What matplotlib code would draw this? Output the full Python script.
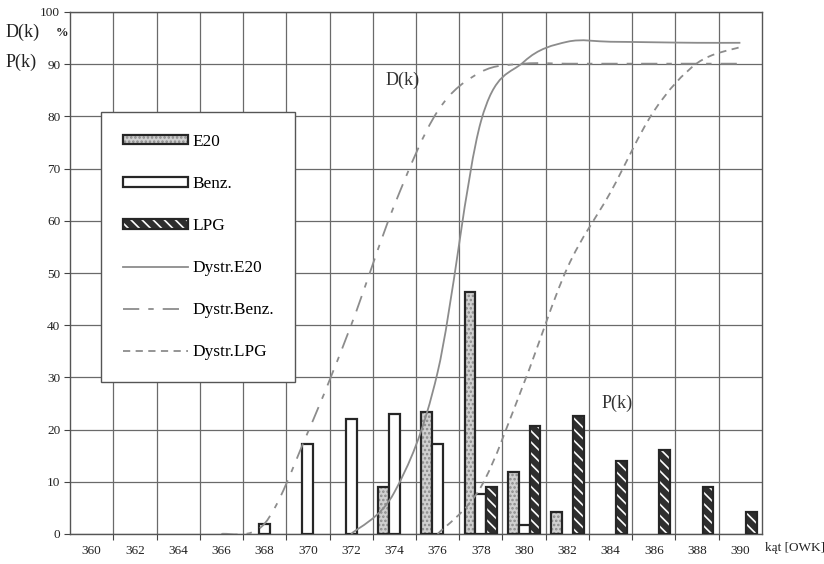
import numpy as np
import matplotlib
matplotlib.use("Agg")
import matplotlib.pyplot as plt
from matplotlib.path import Path
from matplotlib.patches import PathPatch, Patch
from matplotlib.lines import Line2D

plt.rcParams['font.family'] = ['Liberation Serif', 'DejaVu Serif']
plt.rcParams['hatch.linewidth'] = 1.2

# kąt [OWK] - kategorie co 2 stopnie
angles = [360, 362, 364, 366, 368, 370, 372, 374, 376, 378, 380, 382, 384, 386, 388, 390]

# P(k) [%] dla poszczególnych paliw
p_e20 = [0, 0, 0, 0, 0, 0, 0, 9.0, 23.3, 46.3, 11.8, 4.2, 0, 0, 0, 0]
p_benz = [0, 0, 0, 0, 1.9, 17.3, 22.0, 23.0, 17.3, 7.7, 1.8, 0, 0, 0, 0, 0]
p_lpg = [0, 0, 0, 0, 0, 0, 0, 0, 0, 9.0, 20.7, 22.6, 14.0, 16.0, 9.0, 4.2]

# D(k) [%] - dystrybuanty
d_e20_x = [372, 374, 376, 378, 380, 382, 384, 386, 388, 390]
d_e20 = [0, 8.0, 31.0, 79.0, 90.5, 94.3, 94.3, 94.2, 94.1, 94.1]
d_benz_x = [366, 368, 370, 372, 374, 376, 378, 380, 382, 384, 386, 388, 390]
d_benz = [0, 2.0, 19.5, 40.0, 63.0, 81.0, 88.5, 90.1, 90.1, 90.1, 90.1, 90.1, 90.1]
d_lpg_x = [376, 378, 380, 382, 384, 386, 388, 390]
d_lpg = [0, 9.0, 29.0, 51.0, 65.5, 81.0, 90.2, 93.3]


def smooth_path(xs, ys):
    # wygładzona linia (krzywe Beziera przez kolejne punkty)
    pts = np.column_stack([xs, ys]).astype(float)
    n = len(pts)
    verts = [pts[0]]
    codes = [Path.MOVETO]
    for i in range(n - 1):
        p0 = pts[i - 1] if i > 0 else pts[i]
        p1 = pts[i]
        p2 = pts[i + 1]
        p3 = pts[i + 2] if i + 2 < n else pts[i + 1]
        verts += [p1 + (p2 - p0) / 6, p2 - (p3 - p1) / 6, p2]
        codes += [Path.CURVE4] * 3
    return Path(verts, codes)


def nonzero(xs, vals):
    xs = np.asarray(xs, dtype=float)
    vals = np.asarray(vals, dtype=float)
    m = vals > 0
    return xs[m], vals[m]


fig = plt.figure(figsize=(8.24, 5.64), dpi=100)
ax = fig.add_axes([70 / 824, 30 / 564, 692 / 824, 522 / 564])

x = np.array(angles, dtype=float)
w = 0.5
edge = '#262626'

# E20 - jasny wzór
xe, ve = nonzero(x - w, p_e20)
ax.bar(xe, ve, width=w, color='#d0d0d0', hatch='....', edgecolor='#8a8a8a', linewidth=0, zorder=3)
ax.bar(xe, ve, width=w, fill=False, edgecolor=edge, linewidth=1.6, zorder=4)
# Benz. - białe
xb, vb = nonzero(x, p_benz)
ax.bar(xb, vb, width=w, color='white', edgecolor=edge, linewidth=1.6, zorder=4)
# LPG - ciemne paski
xl, vl = nonzero(x + w, p_lpg)
ax.bar(xl, vl, width=w, color='#2e2e2e', hatch='\\\\\\', edgecolor='white', linewidth=0, zorder=3)
ax.bar(xl, vl, width=w, fill=False, edgecolor=edge, linewidth=1.6, zorder=4)

curve_col = '#8c8c8c'
styles = {
    'e20': '-',
    'benz': (0, (9, 5, 3, 5)),
    'lpg': (0, (4, 3)),
}
for xs, ys, key in [(d_e20_x, d_e20, 'e20'), (d_benz_x, d_benz, 'benz'), (d_lpg_x, d_lpg, 'lpg')]:
    ax.add_patch(PathPatch(smooth_path(xs, ys), fill=False, edgecolor=curve_col,
                           linewidth=1.3, linestyle=styles[key], zorder=5))

ax.set_xlim(359, 391)
ax.set_ylim(0, 100)
ax.set_yticks(range(0, 101, 10))
ax.set_xticks(range(361, 391, 2))
ax.set_xticks(angles, minor=True)
ax.set_xticklabels(angles, minor=True)
ax.tick_params(axis='x', which='major', length=4, labelbottom=False, color='#444')
ax.tick_params(axis='x', which='minor', length=0, labelsize=9.5, pad=8, labelcolor='#222')
ax.tick_params(axis='y', length=4, labelsize=9.5, pad=3, labelcolor='#222', color='#444')
ax.grid(True, which='major', color='#6a6a6a', linewidth=0.9, zorder=0)
ax.set_axisbelow(True)
for s in ax.spines.values():
    s.set_color('#555')
    s.set_linewidth(1.0)

ax.text(374.4, 87, 'D(k)', fontsize=13, color='#333', ha='center', va='center', zorder=6)
ax.text(384.3, 25.1, 'P(k)', fontsize=13, color='#333', ha='center', va='center', zorder=6)

fig.text(6 / 824, 1 - 32 / 564, 'D(k)', fontsize=13, color='#222', va='center', ha='left')
fig.text(56 / 824, 1 - 33 / 564, '%', fontsize=9, fontweight='bold', color='#222', va='center', ha='left')
fig.text(6 / 824, 1 - 62 / 564, 'P(k)', fontsize=13, color='#222', va='center', ha='left')
fig.text(765 / 824, 1 - 548 / 564, 'kąt [OWK]', fontsize=9.5, color='#222', va='center', ha='left')

handles = [
    (Patch(facecolor='#d0d0d0', hatch='....', edgecolor='#8a8a8a', linewidth=0),
     Patch(fill=False, edgecolor=edge, linewidth=1.6)),
    Patch(facecolor='white', edgecolor=edge, linewidth=1.6),
    (Patch(facecolor='#2e2e2e', hatch='\\\\\\', edgecolor='white', linewidth=0),
     Patch(fill=False, edgecolor=edge, linewidth=1.6)),
    Line2D([], [], color=curve_col, linewidth=1.3, linestyle=styles['e20']),
    Line2D([], [], color=curve_col, linewidth=1.3, linestyle=styles['benz']),
    Line2D([], [], color=curve_col, linewidth=1.3, linestyle=styles['lpg']),
]
labels = ['E20', 'Benz.', 'LPG', 'Dystr.E20', 'Dystr.Benz.', 'Dystr.LPG']
leg = ax.legend(handles, labels, loc='upper left', bbox_to_anchor=(31 / 692, 422 / 522),
                borderaxespad=0, fontsize=12.4, labelspacing=1.52, handlelength=3.8,
                handleheight=0.5, handletextpad=0.25, borderpad=1.25,
                fancybox=False, framealpha=1, edgecolor='#555')
leg.get_frame().set_linewidth(1.0)
leg.set_zorder(10)

fig.savefig('out.png', dpi=100)
